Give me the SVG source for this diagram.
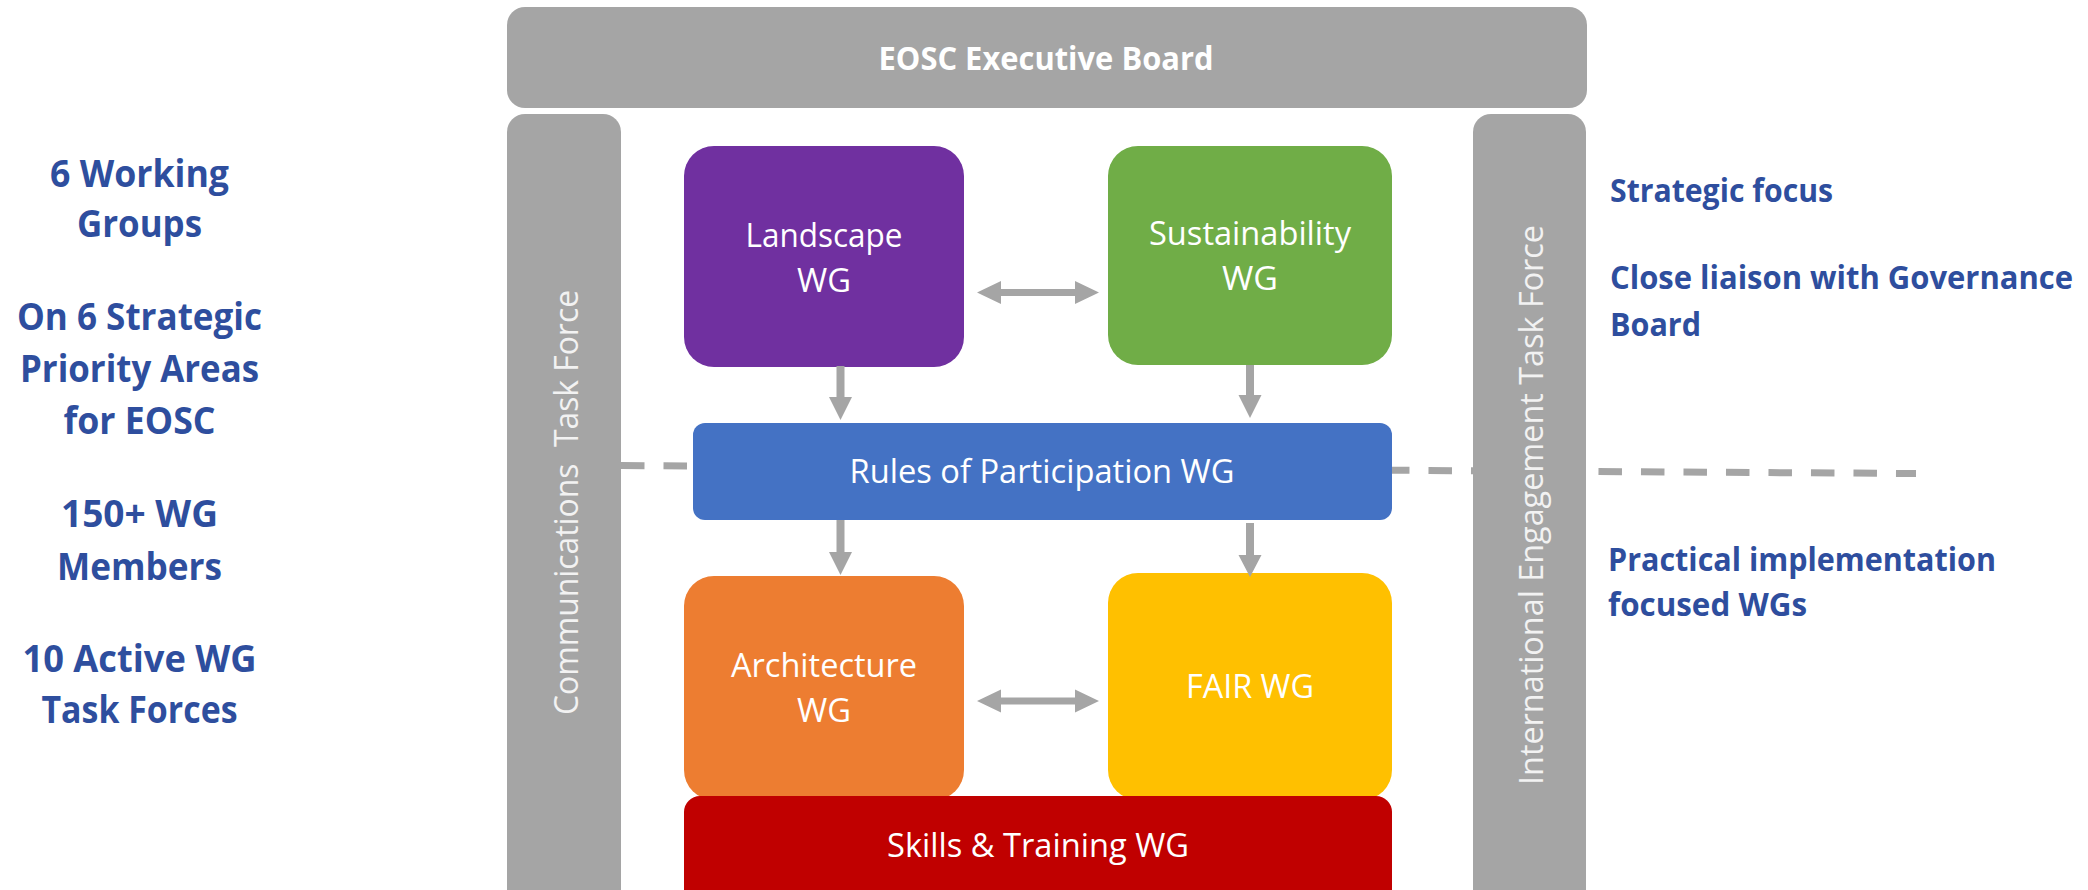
<svg xmlns="http://www.w3.org/2000/svg" width="2088" height="890" viewBox="0 0 2088 890">
  <defs>
    <style>
      .bg { fill: #FFFFFF; }
      .grey { fill: #A5A5A5; }
      .lbl { font-family: "Open Sans", "Liberation Sans", sans-serif; font-size: 32px; fill: #FFFFFF; text-anchor: middle; }
      .lblb { font-family: "Open Sans", "Liberation Sans", sans-serif; font-size: 32px; font-weight: bold; fill: #FFFFFF; text-anchor: middle; }
      .col { font-family: "Open Sans", "Liberation Sans", sans-serif; font-size: 32px; fill: #F2F2F2; text-anchor: middle; }
      .stat { font-family: "Open Sans", "Liberation Sans", sans-serif; font-size: 38px; font-weight: bold; fill: #2E4E9E; text-anchor: middle; }
      .note { font-family: "Open Sans", "Liberation Sans", sans-serif; font-size: 32px; font-weight: bold; fill: #2E4E9E; }
      .dash { stroke: #A5A5A5; stroke-width: 7; stroke-dasharray: 23.5 19; fill: none; }
      .arrow { fill: #A5A5A5; }
    </style>
  </defs>
  <rect class="bg" x="0" y="0" width="2088" height="890"/>

  <g id="connectors">
    <line class="dash" x1="621" y1="465.5" x2="1916" y2="473.5"/>
  </g>

  <g id="exec-board">
    <rect class="grey" x="507" y="7" width="1080" height="101" rx="18"/>
    <text class="lblb" x="1046" y="70" textLength="335" lengthAdjust="spacingAndGlyphs">EOSC Executive Board</text>
  </g>

  <g id="communications-tf">
    <rect class="grey" x="507" y="114" width="114" height="800" rx="18"/>
    <text class="col" transform="translate(577.5,502.5) rotate(-90)" textLength="425" lengthAdjust="spacingAndGlyphs" xml:space="preserve">Communications  Task Force</text>
  </g>

  <g id="international-tf">
    <rect class="grey" x="1473" y="114" width="113" height="800" rx="18"/>
    <text class="col" transform="translate(1543,505) rotate(-90)" textLength="560" lengthAdjust="spacingAndGlyphs">International Engagement Task Force</text>
  </g>

  <g id="landscape-wg">
    <rect x="684" y="146" width="280" height="221" rx="30" fill="#7030A0"/>
    <text class="lbl" x="824" y="247" textLength="157" lengthAdjust="spacingAndGlyphs">Landscape</text>
    <text class="lbl" x="824" y="292" textLength="54" lengthAdjust="spacingAndGlyphs">WG</text>
  </g>

  <g id="sustainability-wg">
    <rect x="1108" y="146" width="284" height="219" rx="30" fill="#70AD47"/>
    <text class="lbl" x="1250" y="245" textLength="202" lengthAdjust="spacingAndGlyphs">Sustainability</text>
    <text class="lbl" x="1250" y="290" textLength="56" lengthAdjust="spacingAndGlyphs">WG</text>
  </g>

  <g id="rules-wg">
    <rect x="693" y="423" width="699" height="97" rx="12" fill="#4472C4"/>
    <text class="lbl" x="1042" y="483" textLength="385" lengthAdjust="spacingAndGlyphs">Rules of Participation WG</text>
  </g>

  <g id="architecture-wg">
    <rect x="684" y="576" width="280" height="224" rx="30" fill="#ED7D31"/>
    <text class="lbl" x="824" y="677" textLength="186" lengthAdjust="spacingAndGlyphs">Architecture</text>
    <text class="lbl" x="824" y="722" textLength="54" lengthAdjust="spacingAndGlyphs">WG</text>
  </g>

  <g id="fair-wg">
    <rect x="1108" y="573" width="284" height="227" rx="30" fill="#FFC000"/>
    <text class="lbl" x="1250" y="698" textLength="128" lengthAdjust="spacingAndGlyphs">FAIR WG</text>
  </g>

  <g id="skills-wg">
    <rect x="684" y="796" width="708" height="120" rx="16" fill="#C00000"/>
    <text class="lbl" x="1038" y="857" textLength="302" lengthAdjust="spacingAndGlyphs">Skills &amp; Training WG</text>
  </g>

  <g id="arrows">
    <polygon class="arrow" points="836.5,366 844.5,366 844.5,397 852,397 840.5,420 829,397 836.5,397"/>
    <polygon class="arrow" points="1246,365 1254,365 1254,395 1261.5,395 1250,418 1238.5,395 1246,395"/>
    <polygon class="arrow" points="836.5,520 844.5,520 844.5,552 852,552 840.5,575 829,552 836.5,552"/>
    <polygon class="arrow" points="1246,523 1254,523 1254,555 1261.5,555 1250,577 1238.5,555 1246,555"/>
    <polygon class="arrow" points="977,292.5 1001,281 1001,289 1075,289 1075,281 1099,292.5 1075,304 1075,296 1001,296 1001,304"/>
    <polygon class="arrow" points="977,701 1001,689.5 1001,697.5 1075,697.5 1075,689.5 1099,701 1075,712.5 1075,704.5 1001,704.5 1001,712.5"/>
  </g>

  <g id="stats">
    <text class="stat" x="139.5" y="186.5" textLength="179" lengthAdjust="spacingAndGlyphs">6 Working</text>
    <text class="stat" x="139.5" y="237" textLength="125" lengthAdjust="spacingAndGlyphs">Groups</text>
    <text class="stat" x="139.5" y="330" textLength="245" lengthAdjust="spacingAndGlyphs">On 6 Strategic</text>
    <text class="stat" x="139.5" y="382" textLength="239" lengthAdjust="spacingAndGlyphs">Priority Areas</text>
    <text class="stat" x="139.5" y="434" textLength="152" lengthAdjust="spacingAndGlyphs">for EOSC</text>
    <text class="stat" x="139.5" y="527" textLength="157" lengthAdjust="spacingAndGlyphs">150+ WG</text>
    <text class="stat" x="139.5" y="580" textLength="165" lengthAdjust="spacingAndGlyphs">Members</text>
    <text class="stat" x="139.5" y="672" textLength="234" lengthAdjust="spacingAndGlyphs">10 Active WG</text>
    <text class="stat" x="139.5" y="723" textLength="196" lengthAdjust="spacingAndGlyphs">Task Forces</text>
  </g>

  <g id="notes">
    <text class="note" x="1610" y="202" textLength="223" lengthAdjust="spacingAndGlyphs">Strategic focus</text>
    <text class="note" x="1610" y="289" textLength="463" lengthAdjust="spacingAndGlyphs">Close liaison with Governance</text>
    <text class="note" x="1610" y="336" textLength="91" lengthAdjust="spacingAndGlyphs">Board</text>
    <text class="note" x="1608" y="571" textLength="388" lengthAdjust="spacingAndGlyphs">Practical implementation</text>
    <text class="note" x="1608" y="616" textLength="199" lengthAdjust="spacingAndGlyphs">focused WGs</text>
  </g>
</svg>
